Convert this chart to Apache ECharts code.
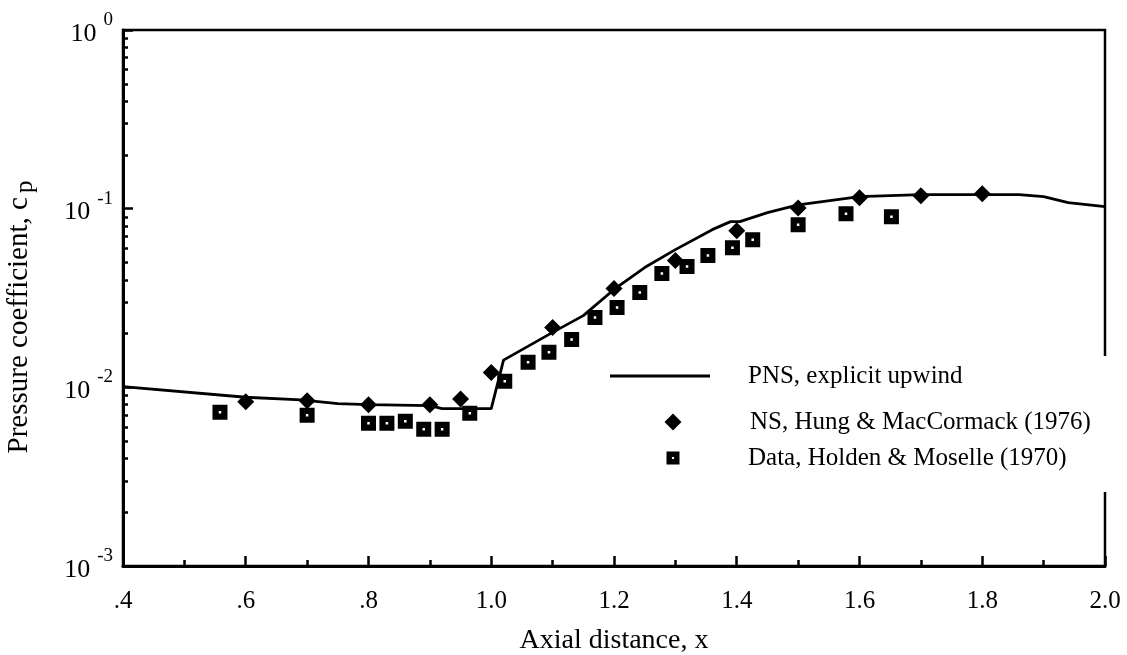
<!DOCTYPE html>
<html>
<head>
<meta charset="utf-8">
<script src="https://cdn.jsdelivr.net/npm/echarts@6/dist/echarts.min.js"></script>
<style>
  html, body { margin: 0; padding: 0; background: #fff; }
  #main { width: 1127px; height: 655px; }
</style>
</head>
<body>
<div id="main"></div>
<script>
// PNS, explicit upwind (solid line)
const pnsX  = [0.40, 0.60, 0.69, 0.75, 0.80, 0.90, 0.92, 1.00, 1.02, 1.10, 1.15, 1.20, 1.25, 1.30, 1.36, 1.39, 1.405, 1.45, 1.50, 1.60, 1.70, 1.80, 1.86, 1.90, 1.94, 2.00];
const pnsCp = [0.0101, 0.0088, 0.0085, 0.0081, 0.0080, 0.0079, 0.0076, 0.0076, 0.0142, 0.0203, 0.0252, 0.0353, 0.0468, 0.0590, 0.0763, 0.0846, 0.0846, 0.0950, 0.1050, 0.1167, 0.1197, 0.1197, 0.1197, 0.1167, 0.1080, 0.1026];

// NS, Hung & MacCormack (diamonds)
const nsX  = [0.60, 0.70, 0.80, 0.90, 0.95, 1.00, 1.10, 1.20, 1.30, 1.40, 1.50, 1.60, 1.70, 1.80];
const nsCp = [0.0083, 0.0084, 0.0080, 0.0080, 0.0086, 0.0121, 0.0216, 0.0357, 0.0512, 0.0753, 0.101, 0.1152, 0.1183, 0.1211];

// Data, Holden & Moselle (squares)
const dataX  = [0.558, 0.70, 0.80, 0.83, 0.86, 0.89, 0.92, 0.965, 1.022, 1.06, 1.094, 1.131, 1.169, 1.205, 1.242, 1.278, 1.319, 1.353, 1.393, 1.426, 1.50, 1.578, 1.652];
const dataCp = [0.00725, 0.00698, 0.00629, 0.00629, 0.00646, 0.00583, 0.00583, 0.00716, 0.0108, 0.0138, 0.0157, 0.0185, 0.0246, 0.0280, 0.0340, 0.0433, 0.0474, 0.0546, 0.0605, 0.0671, 0.0814, 0.0938, 0.0902];

const seriesNames = ['PNS, explicit upwind', 'NS, Hung & MacCormack (1976)', 'Data, Holden & Moselle (1970)'];
const yMajor = [0.001, 0.01, 0.1, 1];
const yMinor = [];
[-3, -2, -1].forEach(function (d) {
  for (let k = 2; k <= 9; k++) yMinor.push(k * Math.pow(10, d));
});

const FONT = '"Liberation Serif", "DejaVu Serif", serif';
const zip = (xs, ys) => xs.map((x, i) => [x, ys[i]]);
const squareIcon = 'path://M0,0H12V12H0Z M5,5V7H7V5Z';

const chart = echarts.init(document.getElementById('main'));

function legendText(padLeft) {
  return { fontFamily: FONT, fontSize: 25, color: '#000', lineHeight: 25, padding: [0, 0, 0, padLeft] };
}

var option = {
  backgroundColor: '#fff',
  animation: false,
  textStyle: { fontFamily: FONT },
  grid: {
    left: 123, right: 22, top: 30, bottom: 89,
    outerBoundsMode: 'none',
    containLabel: false,
    show: true, borderColor: '#000', borderWidth: 2.5
  },
  // break in the right frame behind the legend
  graphic: [{
    type: 'rect', z: 1,
    shape: { x: 1098, y: 356, width: 14, height: 136 },
    style: { fill: '#fff' }
  }],
  legend: [
    {
      data: [{ name: seriesNames[0], icon: 'rect' }],
      orient: 'vertical', selectedMode: false,
      left: 605, top: 355, padding: [8.5, 0, 0, 5],
      itemWidth: 100, itemHeight: 3,
      textStyle: legendText(33)
    },
    {
      data: [seriesNames[1]],
      orient: 'vertical', selectedMode: false,
      left: 659.5, top: 400, padding: [9.5, 0, 0, 5],
      itemWidth: 17, itemHeight: 17,
      textStyle: legendText(63.5)
    },
    {
      data: [seriesNames[2]],
      orient: 'vertical', selectedMode: false,
      left: 661.5, top: 443, padding: [2.5, 0, 0, 5],
      itemWidth: 13, itemHeight: 13,
      textStyle: legendText(63.5)
    }
  ],
  xAxis: {
    type: 'value',
    min: 0.4, max: 2.0, interval: 0.2,
    name: 'Axial distance, x',
    nameLocation: 'middle',
    nameGap: 61,
    nameTextStyle: { fontFamily: FONT, fontSize: 28, color: '#000' },
    axisLine: { onZero: false, lineStyle: { color: '#000', width: 3 } },
    axisTick: { inside: true, length: 10, lineStyle: { color: '#000', width: 2.5 } },
    minorTick: { show: true, splitNumber: 2, length: 6, lineStyle: { color: '#000', width: 2.5 } },
    splitLine: { show: false },
    axisLabel: {
      margin: 23,
      fontFamily: FONT, fontSize: 25, color: '#000',
      formatter: function (v) {
        const r = Math.round(v * 10) / 10;
        return r < 1 ? '.' + Math.round(r * 10) : r.toFixed(1);
      }
    }
  },
  yAxis: [
    {
      type: 'log', logBase: 10,
      min: 0.001, max: 1,
      name: 'Pressure coefficient, c{sub|p}',
      nameLocation: 'middle',
      nameGap: 85,
      nameTextStyle: {
        fontFamily: FONT, fontSize: 29, color: '#000',
        padding: [0, 38, 0, 0],
        rich: { sub: { fontFamily: FONT, fontSize: 25, color: '#000', padding: [12, 0, 0, 4] } }
      },
      axisLine: { lineStyle: { color: '#000', width: 3 } },
      axisTick: { inside: true, length: 10, customValues: yMajor, lineStyle: { color: '#000', width: 2.5 } },
      splitLine: { show: false },
      axisLabel: {
        margin: 10,
        customValues: yMajor,
        formatter: function (v) {
          const e = Math.round(Math.log10(v));
          return '{b|10}{s|' + (e === 0 ? '0' : e) + '}';
        },
        rich: {
          b: { fontFamily: FONT, fontSize: 26, color: '#000', padding: [8, 0, 0, 0] },
          s: { fontFamily: FONT, fontSize: 19, color: '#000', padding: [0, 0, 20, 7] }
        }
      }
    },
    {
      type: 'log', logBase: 10,
      min: 0.001, max: 1,
      position: 'left',
      axisLine: { show: false },
      axisLabel: { show: false },
      splitLine: { show: false },
      axisTick: { inside: true, length: 5, customValues: yMinor, lineStyle: { color: '#000', width: 2.5 } }
    }
  ],
  series: [
    {
      name: seriesNames[0],
      type: 'line',
      data: zip(pnsX, pnsCp),
      symbol: 'none',
      lineStyle: { color: '#000', width: 2.8 },
      itemStyle: { color: '#000' },
      z: 2
    },
    {
      name: seriesNames[1],
      type: 'scatter',
      data: zip(nsX, nsCp),
      symbol: 'diamond',
      symbolSize: 17,
      itemStyle: { color: '#000', opacity: 1 },
      z: 3
    },
    {
      name: seriesNames[2],
      type: 'scatter',
      data: zip(dataX, dataCp),
      symbol: squareIcon,
      symbolSize: 15,
      itemStyle: { color: '#000', opacity: 1 },
      z: 3
    }
  ]
};

chart.setOption(option);
</script>
</body>
</html>
